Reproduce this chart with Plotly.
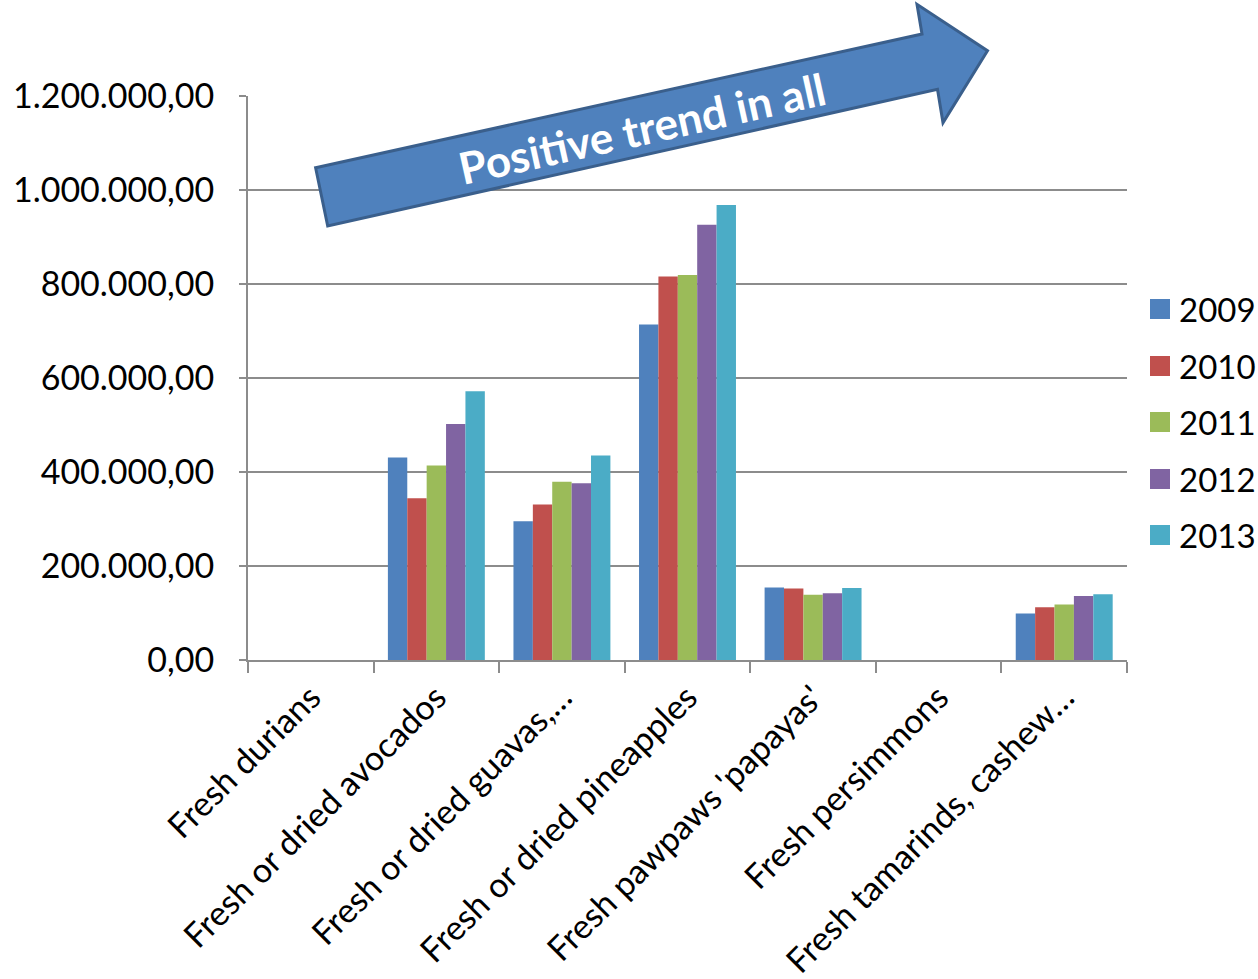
import plotly.graph_objects as go

# Products and yearly values
categories = [
    "Fresh durians",
    "Fresh or dried avocados",
    "Fresh or dried guavas,…",
    "Fresh or dried pineapples",
    "Fresh pawpaws 'papayas'",
    "Fresh persimmons",
    "Fresh tamarinds, cashew…",
]
years = ["2009", "2010", "2011", "2012", "2013"]
v2009 = [0, 431000, 295000, 714000, 154000, 0, 99000]
v2010 = [0, 344000, 331000, 816000, 152000, 0, 112000]
v2011 = [0, 414000, 379000, 819000, 139000, 0, 118000]
v2012 = [0, 502000, 376000, 926000, 142000, 0, 136000]
v2013 = [0, 572000, 435000, 968000, 153000, 0, 140000]
series = [v2009, v2010, v2011, v2012, v2013]
colors = ["#4F81BD", "#C0504D", "#9BBB59", "#8064A2", "#4BACC6"]

FONT = "Lato"
GRID = "#8C8C8C"

# plot-area geometry in pixels (used to place decorations in paper space)
L, R, T, B = 248, 1127, 96, 660
W, H = R - L, B - T


def px(x):
    return (x - L) / W


def py(y):
    return (B - y) / H


fig = go.Figure()
for name, vals, col in zip(years, series, colors):
    fig.add_trace(go.Bar(
        x=categories, y=vals, name=name,
        marker=dict(color=col, line=dict(width=0)),
        showlegend=False,
    ))

shapes = []
annotations = []

# legend: coloured squares with year labels
leg_y = [309, 366, 422, 479, 535]
for name, col, yc in zip(years, colors, leg_y):
    shapes.append(dict(
        type="rect", xref="paper", yref="paper",
        x0=px(1150), x1=px(1170), y0=py(yc + 10), y1=py(yc - 10),
        fillcolor=col, line=dict(width=0),
    ))
    annotations.append(dict(
        xref="paper", yref="paper", x=px(1177), y=py(yc),
        text=name, showarrow=False, xanchor="left", yanchor="middle",
        font=dict(family=FONT, size=33, color="#000000"),
    ))

# block arrow across the top
arrow_pts = [(315.6, 167.7), (922, 34), (917, 4.3), (987.5, 50.7),
             (943, 122.7), (937.5, 89.3), (327.7, 226)]
path = "M " + " L ".join(f"{px(x):.5f},{py(y):.5f}" for x, y in arrow_pts) + " Z"
shapes.append(dict(
    type="path", xref="paper", yref="paper", path=path,
    fillcolor="#4F81BD", line=dict(color="#3A5F8C", width=3), layer="above",
))
annotations.append(dict(
    xref="paper", yref="paper", x=px(642), y=py(128),
    text="<b>Positive trend in all</b>", showarrow=False,
    textangle=-12.5, xanchor="center", yanchor="middle",
    font=dict(family=FONT, size=44, color="#FFFFFF"),
))

fig.update_layout(
    width=1258, height=979,
    margin=dict(l=L, r=1258 - R, t=T, b=979 - B, autoexpand=False),
    paper_bgcolor="#FFFFFF", plot_bgcolor="#FFFFFF",
    barmode="group", bargap=0.228, bargroupgap=0,
    separators=",.",
    font=dict(family=FONT, size=33, color="#000000"),
    shapes=shapes, annotations=annotations,
    showlegend=False,
)
fig.update_yaxes(
    range=[0, 1200000], dtick=200000, tickformat=",.2f",
    showgrid=True, gridcolor=GRID, gridwidth=2,
    showline=True, linecolor=GRID, linewidth=2,
    ticks="outside", ticklen=7, tickcolor=GRID, tickwidth=2,
    ticklabelstandoff=18, zeroline=False,
    tickfont=dict(family=FONT, size=34, color="#000000"),
)
fig.update_xaxes(
    type="category", tickangle=-45,
    showline=True, linecolor=GRID, linewidth=2,
    ticks="outside", tickson="boundaries", ticklen=11,
    tickcolor=GRID, tickwidth=2, showgrid=False,
    ticklabelstandoff=2,
    tickfont=dict(family=FONT, size=34, color="#000000"),
)

fig.write_html("out.html")
